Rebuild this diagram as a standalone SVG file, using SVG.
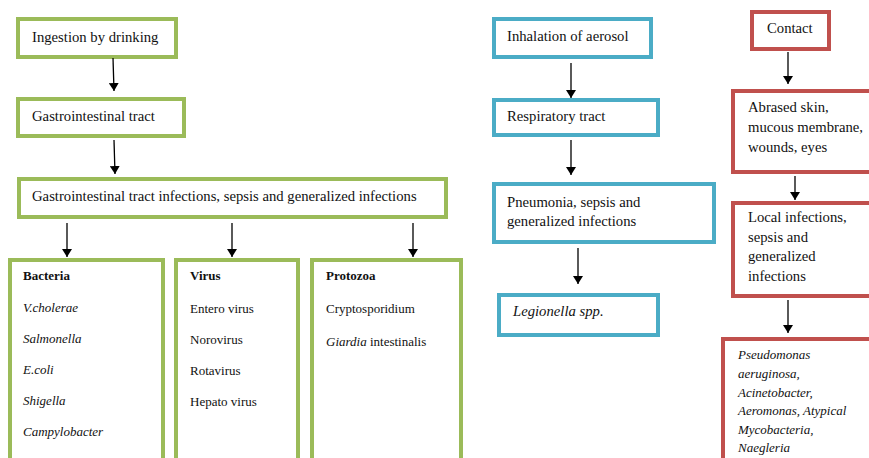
<svg xmlns="http://www.w3.org/2000/svg" width="869" height="458" viewBox="0 0 869 458" font-family="'Liberation Serif', 'Times New Roman', serif">
<style>
text{font-size:14.7px;fill:#111}
.g{fill:#fff;stroke:#9BBB59;stroke-width:4}
.b{fill:#fff;stroke:#4BACC6;stroke-width:4}
.r{fill:#fff;stroke:#C0504D;stroke-width:4}
.i{font-style:italic}
.bd{font-weight:bold;font-size:13px}
.s{font-size:13px}
.c line{stroke:#000;stroke-width:1.3;marker-end:url(#ah)}
</style>
<defs>
<marker id="ah" markerWidth="10" markerHeight="10" refX="8" refY="5" orient="auto" markerUnits="userSpaceOnUse">
<path d="M0,0 L8,5 L0,10 Z" fill="#000"/>
</marker>
</defs>
<rect width="869" height="458" fill="#fff"/>
<g id="ingestion"><rect class="g" x="18" y="19" width="158" height="38"/><text x="32" y="42">Ingestion by drinking</text></g>
<g id="gi-tract"><rect class="g" x="18" y="99" width="166" height="37"/><text x="32" y="121">Gastrointestinal tract</text></g>
<g id="gi-infections"><rect class="g" x="19" y="179" width="427" height="38"/><text x="32" y="201">Gastrointestinal tract infections, sepsis and generalized infections</text></g>
<g id="bacteria"><rect class="g" x="10" y="260" width="153" height="210"/>
<text class="bd" x="23" y="280">Bacteria</text>
<text class="i s" x="23" y="312">V.cholerae</text>
<text class="i s" x="23" y="343">Salmonella</text>
<text class="i s" x="23" y="374">E.coli</text>
<text class="i s" x="23" y="405">Shigella</text>
<text class="i s" x="23" y="436">Campylobacter</text></g>
<g id="virus"><rect class="g" x="176" y="260" width="122" height="210"/>
<text class="bd" x="190" y="280">Virus</text>
<text class="s" x="190" y="313">Entero virus</text>
<text class="s" x="190" y="344">Norovirus</text>
<text class="s" x="190" y="375">Rotavirus</text>
<text class="s" x="190" y="406">Hepato virus</text></g>
<g id="protozoa"><rect class="g" x="312" y="260" width="149" height="210"/>
<text class="bd" x="326" y="280">Protozoa</text>
<text class="s" x="326" y="313">Cryptosporidium</text>
<text class="s" x="326" y="346"><tspan class="i">Giardia</tspan> intestinalis</text></g>
<g id="inhalation"><rect class="b" x="494" y="19" width="157" height="38"/><text x="507" y="41">Inhalation of aerosol</text></g>
<g id="respiratory"><rect class="b" x="494" y="100" width="164" height="35"/><text x="507" y="121">Respiratory tract</text></g>
<g id="pneumonia"><rect class="b" x="494" y="184" width="220" height="58"/><text x="507" y="207">Pneumonia, sepsis and</text><text x="507" y="226">generalized infections</text></g>
<g id="legionella"><rect class="b" x="499" y="295" width="159" height="40"/><text class="i" x="513" y="316">Legionella spp.</text></g>
<g id="contact"><rect class="r" x="752" y="12" width="77" height="37"/><text x="767" y="33">Contact</text></g>
<g id="abrased"><rect class="r" x="733" y="91" width="140" height="81"/><text x="748" y="112">Abrased skin,</text><text x="748" y="132">mucous membrane,</text><text x="748" y="152">wounds, eyes</text></g>
<g id="local"><rect class="r" x="733" y="203" width="140" height="93"/><text x="748" y="222">Local infections,</text><text x="748" y="242">sepsis and</text><text x="748" y="261">generalized</text><text x="748" y="281">infections</text></g>
<g id="pathogens"><rect class="r" x="723" y="339" width="150" height="125"/>
<text class="i s" x="738" y="359">Pseudomonas</text>
<text class="i s" x="738" y="378">aeruginosa,</text>
<text class="i s" x="738" y="397">Acinetobacter,</text>
<text class="i s" x="738" y="415">Aeromonas, Atypical</text>
<text class="i s" x="738" y="434">Mycobacteria,</text>
<text class="i s" x="738" y="452">Naegleria</text></g>
<g class="c" id="connectors">
<line x1="113" y1="58" x2="114" y2="91"/>
<line x1="114" y1="140" x2="115" y2="174"/>
<line x1="67" y1="223" x2="67" y2="257"/>
<line x1="232" y1="223" x2="232" y2="257"/>
<line x1="413" y1="223" x2="413" y2="257"/>
<line x1="571" y1="63" x2="571" y2="98"/>
<line x1="571" y1="140" x2="571" y2="175"/>
<line x1="578" y1="248" x2="578" y2="284"/>
<line x1="788" y1="52" x2="788" y2="84"/>
<line x1="795" y1="176" x2="795" y2="200"/>
<line x1="788" y1="300" x2="788" y2="333"/>
</g>
</svg>
